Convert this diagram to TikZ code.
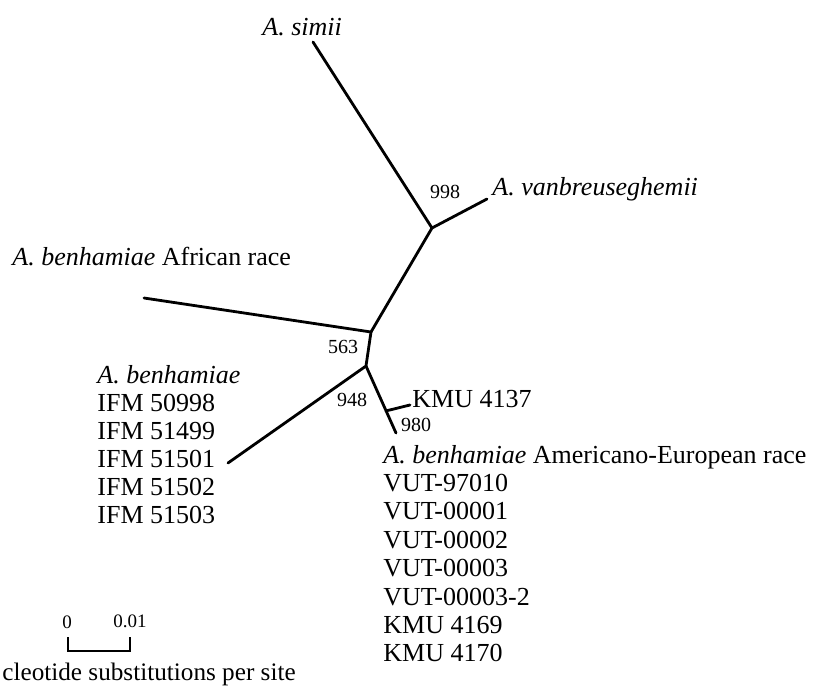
\documentclass[tikz,border=0pt]{standalone}
\usepackage{fontspec}
\setmainfont{Liberation Serif}
\usetikzlibrary{calc}

\begin{document}
\begin{tikzpicture}[x=0.5pt, y=-0.5pt,
  branch/.style={line width=1.4pt, line cap=round, line join=round},
  taxon/.style={font=\fontsize{13}{14}\selectfont, inner sep=0pt, anchor=base west},
  boot/.style={font=\fontsize{10}{12}\selectfont, inner sep=0pt},
  scalebar/.style={line width=1pt}]
  \useasboundingbox (0,0) rectangle (815,686);

  % inner nodes and tips
  \coordinate (n1) at (432,228);
  \coordinate (n2) at (371,332);
  \coordinate (n3) at (366,366);
  \coordinate (simii) at (313,42);
  \coordinate (vanb) at (487,199);
  \coordinate (afr) at (144,298);
  \coordinate (ifm) at (228,463);
  \coordinate (ae) at (396,433);
  \coordinate (n4) at ($(n3)!0.67!(ae)$);
  \coordinate (kmu) at (410,405);

  % branches
  \draw[branch] (simii) -- (n1) -- (vanb);
  \draw[branch] (n1) -- (n2) -- (afr);
  \draw[branch] (n2) -- (n3) -- (ifm);
  \draw[branch] (n3) -- (ae);
  \draw[branch] (n4) -- (kmu);

  % bootstrap values
  \node[boot] (b998) at (445,192) {998};
  \node[boot] (b563) at (343,347) {563};
  \node[boot] (b948) at (352,400) {948};
  \node[boot] (b980) at (416,425) {980};

  % taxa
  \node[taxon] (tsimii) at (262,35) {\textit{A. simii}};
  \node[taxon] (tvanb) at (492,195) {\textit{A. vanbreuseghemii}};
  \node[taxon] (tafr) at (12,265) {\textit{A. benhamiae} African race};
  \node[taxon] (tkmu) at (412,407) {KMU 4137};
  \foreach \strain [count=\k from 0] in {\textit{A. benhamiae}, IFM 50998,
      IFM 51499, IFM 51501, IFM 51502, IFM 51503}
    \node[taxon] (tifm\k) at (97,383+28*\k) {\strain};
  \foreach \strain [count=\k from 0] in {\textit{A. benhamiae} Americano-European race,
      VUT-97010, VUT-00001, VUT-00002, VUT-00003, VUT-00003-2, KMU 4169, KMU 4170}
    \node[taxon] (tae\k) at (383,463+28.4*\k) {\strain};

  % scale
  \coordinate (s0) at (68,637);
  \coordinate (s1) at (130,637);
  \draw[scalebar] (s0) -- ++(0,14) -| (s1);
  \node[boot, font=\fontsize{9.5}{11}\selectfont] (l0) at (67,622) {0};
  \node[boot, font=\fontsize{9.5}{11}\selectfont] (l1) at (130,621) {0.01};
  \node[taxon, font=\fontsize{12.6}{14}\selectfont] (unit) at (2,680) {cleotide substitutions per site};
\end{tikzpicture}
\end{document}
